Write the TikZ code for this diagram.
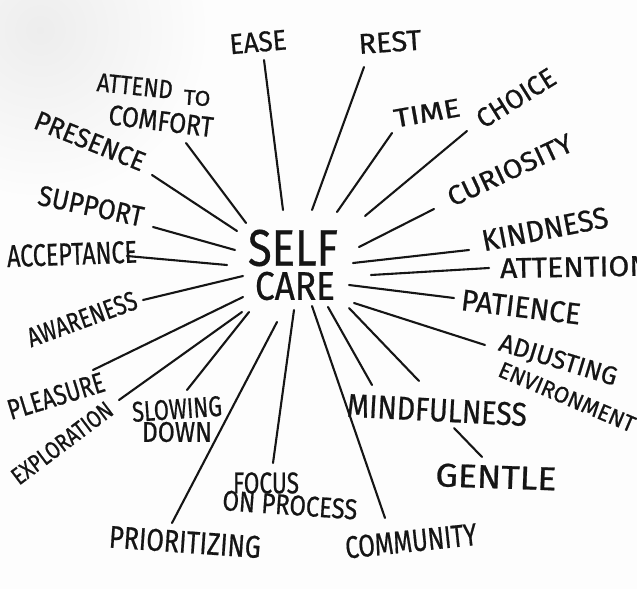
\documentclass[tikz,border=0pt]{standalone}
\usepackage{fontspec}
\setmainfont{Fira Sans}[FakeBold=0.7]
\usepackage{graphicx}
\definecolor{ink}{HTML}{151515}
\definecolor{paper}{HTML}{FDFDFD}
\newcommand\lab[3]{\resizebox{#1pt}{#2pt}{#3}}
\begin{document}
\begin{tikzpicture}[x=1pt,y=-1pt,
  lbl/.style={inner sep=0pt, text=ink},
  conn/.style={draw=ink, line width=2.1pt, line cap=round}]
\useasboundingbox (0,0) rectangle (637,589);
\clip (0,0) rectangle (637,589);
\fill[paper] (0,0) rectangle (637,589);
\shade[inner color=black!7, outer color=paper] (40,30) circle (170);

% centre
\node[lbl] (self) at (293,248) {\lab{90}{36}{SELF}};
\node[lbl] (care) at (295,286) {\lab{80}{28}{CARE}};

% labels
\node[lbl, rotate=5]  (ease) at (258,42) {\lab{57}{20}{EASE}};
\node[lbl, rotate=4]  (rest) at (390,42) {\lab{63}{20}{REST}};
\node[lbl, rotate=-6] (attend) at (135,86) {\lab{76}{18}{ATTEND}};
\node[lbl, rotate=-4] (to) at (197,98) {\lab{27}{15}{TO}};
\node[lbl, rotate=-7] (comfort) at (161,121) {\lab{105}{20}{COMFORT}};
\node[lbl, rotate=-22] (presence) at (90,141) {\lab{117}{19}{PRESENCE}};
\node[lbl, rotate=-12] (support) at (91,206) {\lab{107}{20}{SUPPORT}};
\node[lbl, rotate=2] (acceptance) at (72,254) {\lab{130}{22}{ACCEPTANCE}};
\node[lbl, rotate=20] (awareness) at (82,319) {\lab{115}{19}{AWARENESS}};
\node[lbl, rotate=17] (pleasure) at (56,396) {\lab{100}{20}{PLEASURE}};
\node[lbl, rotate=37] (exploration) at (62,443) {\lab{120}{17}{EXPLORATION}};
\node[lbl, rotate=4] (slowing) at (177,409) {\lab{90}{20}{SLOWING}};
\node[lbl] (down) at (177,432) {\lab{70}{20}{DOWN}};
\node[lbl] (focus) at (266,483) {\lab{66}{21}{FOCUS}};
\node[lbl, rotate=-4] (process) at (290,505) {\lab{135}{20}{ON PROCESS}};
\node[lbl, rotate=-4] (prioritizing) at (185,542) {\lab{152}{22}{PRIORITIZING}};
\node[lbl, rotate=6] (community) at (411,541) {\lab{132}{22}{COMMUNITY}};
\node[lbl, rotate=-2] (gentle) at (496,477) {\lab{121}{23}{GENTLE}};
\node[lbl, rotate=-3] (mindfulness) at (437,410) {\lab{180}{23}{MINDFULNESS}};
\node[lbl, rotate=-17] (adjusting) at (558,361) {\lab{122}{18}{ADJUSTING}};
\node[lbl, rotate=-23] (environment) at (567,397) {\lab{146}{16}{ENVIRONMENT}};
\node[lbl, rotate=-7] (patience) at (521,307) {\lab{120}{21}{PATIENCE}};
\node[lbl, rotate=1] (attention) at (575,267) {\lab{150}{20}{ATTENTION}};
\node[lbl, rotate=11] (kindness) at (545,229) {\lab{128}{21}{KINDNESS}};
\node[lbl, rotate=25] (curiosity) at (510,170) {\lab{135}{19}{CURIOSITY}};
\node[lbl, rotate=32] (choice) at (516,98) {\lab{88}{19}{CHOICE}};
\node[lbl, rotate=10] (time) at (427,113) {\lab{67}{18}{TIME}};

% connector end points
\coordinate (ease-o) at (264,60);   \coordinate (ease-i) at (283,210);
\coordinate (rest-o) at (364,67);   \coordinate (rest-i) at (312,210);
\coordinate (time-o) at (392,133);  \coordinate (time-i) at (337,212);
\coordinate (choice-o) at (467,131); \coordinate (choice-i) at (365,216);
\coordinate (cur-o) at (434,209);   \coordinate (cur-i) at (359,247);
\coordinate (kind-o) at (469,250);  \coordinate (kind-i) at (353,263);
\coordinate (att-o) at (489,268);   \coordinate (att-i) at (371,275);
\coordinate (pat-o) at (454,298);   \coordinate (pat-i) at (349,285);
\coordinate (adj-o) at (485,345);   \coordinate (adj-i) at (354,303);
\coordinate (minda-o) at (419,381); \coordinate (minda-i) at (349,308);
\coordinate (mindb-o) at (372,385); \coordinate (mindb-i) at (328,307);
\coordinate (com-o) at (385,518);   \coordinate (com-i) at (312,306);
\coordinate (gen-o) at (482,457);   \coordinate (gen-i) at (454,428);
\coordinate (foc-o) at (273,463);   \coordinate (foc-i) at (294,310);
\coordinate (pri-o) at (172,523);   \coordinate (pri-i) at (277,322);
\coordinate (slow-o) at (187,390);  \coordinate (slow-i) at (249,312);
\coordinate (exp-o) at (119,400);   \coordinate (exp-i) at (242,312);
\coordinate (plea-o) at (93,370);   \coordinate (plea-i) at (243,297);
\coordinate (awa-o) at (143,300);   \coordinate (awa-i) at (243,276);
\coordinate (acc-o) at (127,256);   \coordinate (acc-i) at (227,265);
\coordinate (sup-o) at (153,227);   \coordinate (sup-i) at (235,250);
\coordinate (pre-o) at (152,175);   \coordinate (pre-i) at (237,231);
\coordinate (com2-o) at (186,143);  \coordinate (com2-i) at (246,223);

\foreach \k in {ease,rest,time,choice,cur,kind,att,pat,adj,minda,mindb,com,gen,foc,pri,slow,exp,plea,awa,acc,sup,pre,com2}
  \draw[conn] (\k-o) -- (\k-i);
\end{tikzpicture}
\end{document}
